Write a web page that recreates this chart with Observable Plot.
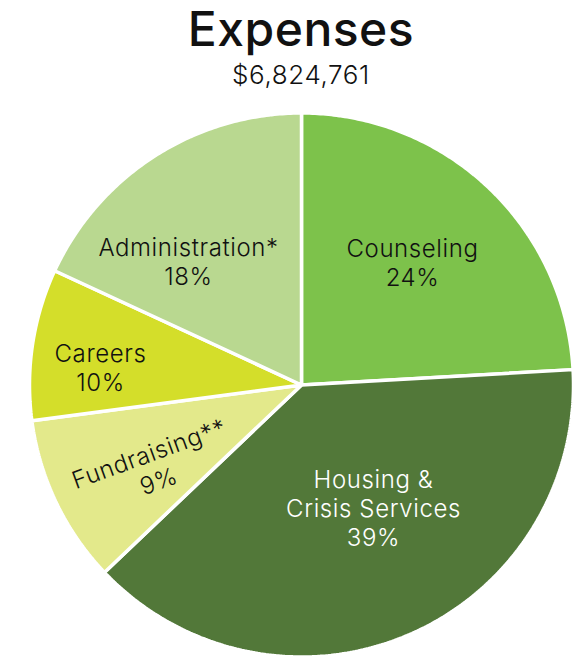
<!DOCTYPE html>
<html><head><meta charset="utf-8">
<script src="https://cdn.jsdelivr.net/npm/d3@7"></script>
<script src="https://cdn.jsdelivr.net/npm/@observablehq/plot@0.6"></script>
<style>
html,body{margin:0;padding:0;background:#fff;}
body{width:579px;height:656px;overflow:hidden;position:relative;font-family:Inter,"Noto Sans",sans-serif;color:#111;}
#title{position:absolute;left:0;width:602px;top:4px;text-align:center;font-size:48px;font-weight:500;line-height:50px;letter-spacing:0.5px;}
#subtitle{position:absolute;left:0;width:602px;top:60px;text-align:center;font-size:26px;font-weight:300;line-height:30px;letter-spacing:0.6px;}
#chart{position:absolute;left:0;top:100px;}
</style>
</head><body>
<div id="title">Expenses</div>
<div id="subtitle">$6,824,761</div>
<div id="chart"></div>
<script>
// Data
const categories = ["Counseling", "Housing & Crisis Services", "Fundraising**", "Careers", "Administration*"];
const shares = [24.1, 38.8, 10.0, 9.0, 18.1];           // wedge sizes as drawn
const percentLabels = ["24%", "39%", "9%", "10%", "18%"]; // printed labels
const labelNames = ["Counseling", "Housing &\nCrisis Services", "Fundraising**", "Careers", "Administration*"];

// Styles
const colors = ["#7dc24b", "#527839", "#e3e98b", "#d4de2a", "#b9d890"];
const textColors = ["#111", "#fff", "#111", "#111", "#111"];
// Layout: label centers (px offsets from pie centre, y up) and rotation
const labelPos = [[111, 123], [72, -123], [-148, -81.5], [-201, 18], [-113, 124]];
const labelRotate = [0, 0, -20, 0, 0];

const R = 272;
const arcs = d3.pie().sort(null).value(d => d)(shares);
const slicePts = [];
arcs.forEach((a, i) => {
  slicePts.push({cat: categories[i], x: 0, y: 0});
  const n = Math.max(2, Math.ceil((a.endAngle - a.startAngle) / 0.01));
  for (let k = 0; k <= n; k++) {
    const t = a.startAngle + (a.endAngle - a.startAngle) * k / n;
    slicePts.push({cat: categories[i], x: R * Math.sin(t), y: R * Math.cos(t)});
  }
});

const labels = categories.map((c, i) => ({
  cat: c,
  text: labelNames[i] + "\n" + percentLabels[i],
  x: labelPos[i][0], y: labelPos[i][1],
  rotate: labelRotate[i],
  color: textColors[i]
}));

const chart = Plot.plot({
  width: 579, height: 556, margin: 0,
  x: {domain: [-301, 278], axis: null},
  y: {domain: [-271.5, 284.5], axis: null},
  color: {domain: categories, range: colors},
  style: {fontFamily: "Inter, 'Noto Sans', sans-serif", background: "#fff", overflow: "visible", letterSpacing: "0.6px"},
  marks: [
    Plot.line(slicePts, {x: "x", y: "y", z: "cat", fill: "cat", stroke: "white", strokeWidth: 3.5, strokeLinejoin: "miter", curve: "linear-closed"}),
    Plot.text(labels, {x: "x", y: "y", text: "text", rotate: "rotate", fill: d => d.color, fontSize: 24, fontWeight: 300, lineHeight: 1.21, textAnchor: "middle"})
  ]
});
document.getElementById("chart").appendChild(chart);
</script>
</body></html>
